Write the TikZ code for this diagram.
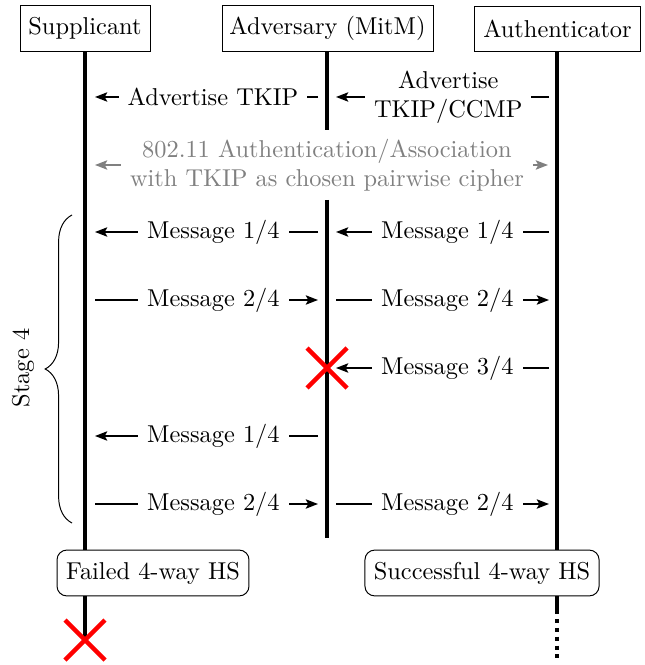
\documentclass[tikz,border=0pt]{standalone}
\usetikzlibrary{arrows.meta,decorations.pathreplacing}
\begin{document}
\begin{tikzpicture}[x=0.41pt,y=-0.41pt,
  actor/.style={draw,fill=white,minimum height=18.5pt,inner xsep=0pt,inner ysep=0pt},
  hsbox/.style={draw,fill=white,rounded corners=4pt,minimum height=18.8pt,inner xsep=0pt,inner ysep=0pt},
  life/.style={line width=1.64pt},
  tip/.tip={Stealth[length=5pt,width=3.8pt,inset=1pt]},
  msg/.style={line width=0.8pt,-tip},
  gmsg/.style={line width=0.8pt,gray,tip-tip},
  lbl/.style={fill=white,inner xsep=3.7pt,inner ysep=1pt,align=center},
  cross/.style={red,line width=1.8pt}
]
\useasboundingbox (0,0) rectangle (645,665);

% actors
\node[actor,minimum width=53.3pt] (sup) at (85,28.5) {Supplicant};
\node[actor,minimum width=86.5pt] (adv) at (327.5,28.5) {Adversary (MitM)};
\node[actor,minimum width=67.7pt] (auth) at (557.5,29) {Authenticator};

% lifeline end points
\coordinate (supend) at (85,640);
\coordinate (advA) at (327,130);
\coordinate (advB) at (327,200);
\coordinate (advC) at (327,538);
\coordinate (auth1) at (557,610);
\coordinate (auth2) at (557,660);

\draw[life] (sup.south) -- (supend);
\draw[life] (adv.south -| advA) -- (advA);
\draw[life] (advB) -- (advC);
\draw[life] (auth.south -| auth1) -- (auth1);
\draw[line width=1.64pt,dash pattern=on 1.64pt off 2pt] (auth1) -- (auth2);

% row 1: advertise
\coordinate (r1a) at (318,97);  \coordinate (r1b) at (95,97);
\coordinate (r1c) at (549,97);  \coordinate (r1d) at (336,97);
\draw[msg] (r1a) -- node[lbl,pos=0.471] (l1a) {Advertise TKIP} (r1b);
\draw[msg] (r1c) -- node[lbl,pos=0.473] (l1b) {Advertise\\TKIP/CCMP} (r1d);

% row 2: 802.11 auth/assoc
\coordinate (r2a) at (95,165);  \coordinate (r2b) at (548,165);
\draw[gmsg] (r2a) -- node[lbl,text=gray,pos=0.512] (l2) {802.11 Authentication/Association\\with TKIP as chosen pairwise cipher} (r2b);

% row 3: message 1/4
\coordinate (r3a) at (318,232);  \coordinate (r3b) at (95,232);
\coordinate (r3c) at (549,232);  \coordinate (r3d) at (336,232);
\draw[msg] (r3a) -- node[lbl,pos=0.469] (l3a) {Message 1/4} (r3b);
\draw[msg] (r3c) -- node[lbl,pos=0.477] (l3b) {Message 1/4} (r3d);

% row 4: message 2/4
\coordinate (r4a) at (95,300);  \coordinate (r4b) at (318,300);
\coordinate (r4c) at (336,300);  \coordinate (r4d) at (549,300);
\draw[msg] (r4a) -- node[lbl,pos=0.531] (l4a) {Message 2/4} (r4b);
\draw[msg] (r4c) -- node[lbl,pos=0.523] (l4b) {Message 2/4} (r4d);

% row 5: message 3/4 (dropped)
\coordinate (r5c) at (549,368);  \coordinate (r5d) at (336,368);
\coordinate (x1) at (327,368);
\draw[msg] (r5c) -- node[lbl,pos=0.477] (l5) {Message 3/4} (r5d);
\draw[cross] (x1) ++(-20,-20) -- ++(40,40) (x1) ++(20,-20) -- ++(-40,40);

% row 6: message 1/4 again
\coordinate (r6a) at (318,436);  \coordinate (r6b) at (95,436);
\draw[msg] (r6a) -- node[lbl,pos=0.469] (l6) {Message 1/4} (r6b);

% row 7: message 2/4 again
\coordinate (r7a) at (95,504);  \coordinate (r7b) at (318,504);
\coordinate (r7c) at (336,504);  \coordinate (r7d) at (549,504);
\draw[msg] (r7a) -- node[lbl,pos=0.531] (l7a) {Message 2/4} (r7b);
\draw[msg] (r7c) -- node[lbl,pos=0.523] (l7b) {Message 2/4} (r7d);

% outcome boxes
\node[hsbox,minimum width=78.7pt] (fail) at (153,573) {Failed 4-way HS};
\node[hsbox,minimum width=96pt] (succ) at (482,573) {Successful 4-way HS};

% final cross
\draw[cross] (supend) ++(-20,-20) -- ++(40,40) (supend) ++(20,-20) -- ++(-40,40);

% stage brace
\coordinate (brb) at (72,523);
\coordinate (brt) at (72,215);
\draw[decorate,decoration={brace,amplitude=11pt}] (brb) -- (brt);
\node[rotate=90] (stage) at (23,368) {Stage 4};
\end{tikzpicture}
\end{document}
